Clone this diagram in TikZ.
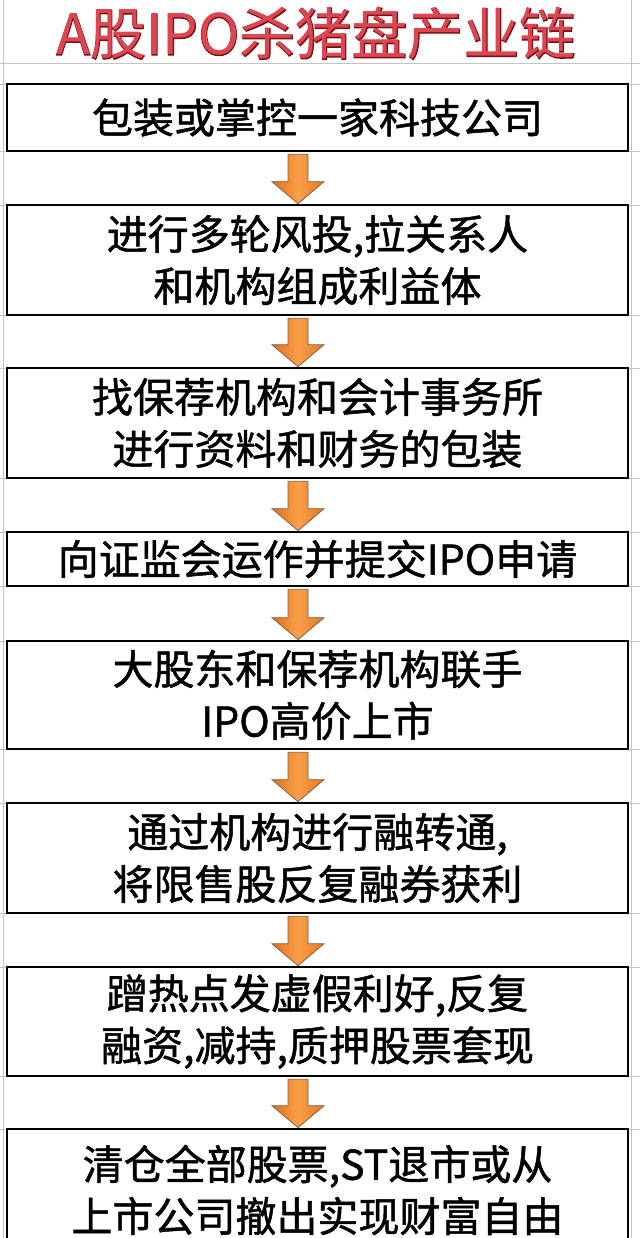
\documentclass[tikz,border=0pt]{standalone}
\usepackage{fontspec}
\newfontfamily\cjk[FakeBold=1.2]{Noto Sans CJK SC}
\newfontfamily\cjktitle{Noto Sans CJK SC}
\newfontfamily\cjktitleout[FakeBold=1.8]{Noto Sans CJK SC}
\usetikzlibrary{calc}
\definecolor{titlered}{HTML}{DC4650}
\definecolor{titledark}{HTML}{7A1016}
\definecolor{arrowA}{HTML}{E06E18}
\definecolor{arrowB}{HTML}{FCA04A}
\definecolor{arrowEdge}{HTML}{7C6450}
\definecolor{gridgray}{HTML}{C4C4C4}
\tikzset{
  stepbox/.style={draw=black, line width=2.6pt, minimum width=621pt, inner sep=0pt,
    align=center, font=\cjk\fontsize{41}{52}\selectfont},
  gridline/.style={draw=gridgray, line width=0.8pt},
  flowarrowstyle/.style={draw=arrowEdge, line width=0.8pt, left color=arrowA,
    right color=arrowA!85!arrowB, middle color=arrowB},
  titlefont/.style={inner sep=0pt, anchor=base, font=\fontsize{56}{60}\selectfont}
}
\newcommand\flowarrow[2]{%
  \draw[flowarrowstyle] ($(#1.south)+(-29.5,2)$) -- ($(#1.south)+(-9.5,2)$)
    -- ($(#2.north)+(-9.5,-22)$) -- ($(#2.north)+(6.5,-22)$)
    -- ($(#2.north)+(-19.5,0)$) -- ($(#2.north)+(-45.5,-22)$)
    -- ($(#2.north)+(-29.5,-22)$) -- cycle;}
\begin{document}
\begin{tikzpicture}[x=1pt,y=-1pt]
\useasboundingbox (0,0) rectangle (640,1238);
\fill[white] (0,0) rectangle (640,1238);
% spreadsheet grid
\draw[gridline] (3,0) -- (3,1238);
\draw[gridline] (631,0) -- (631,1238);
\foreach \yy in {63,84,151,205,315,368,478,532,586,641,749,803,913,967,1076,1129}
  \draw[gridline] (0,\yy) -- (640,\yy);
% title
\node[titlefont, text=titledark] (titleshadow) at (316,55) {\cjktitleout A股IPO杀猪盘产业链};
\node[titlefont, text=titlered] (title) at (316,55) {\cjktitle A股IPO杀猪盘产业链};
% boxes
\node[stepbox, minimum height=67pt]  (b1) at (317.5,117.5) {包装或掌控一家科技公司};
\node[stepbox, minimum height=110pt] (b2) at (317.5,260) {进行多轮风投,拉关系人\\和机构组成利益体};
\node[stepbox, minimum height=110pt] (b3) at (317.5,423) {找保荐机构和会计事务所\\进行资料和财务的包装};
\node[stepbox, minimum height=54pt]  (b4) at (317.5,559) {向证监会运作并提交IPO申请};
\node[stepbox, minimum height=108pt] (b5) at (317.5,695) {大股东和保荐机构联手\\IPO高价上市};
\node[stepbox, minimum height=110pt] (b6) at (317.5,858) {通过机构进行融转通,\\将限售股反复融券获利};
\node[stepbox, minimum height=109pt] (b7) at (317.5,1021.5) {蹭热点发虚假利好,反复\\融资,减持,质押股票套现};
\node[stepbox, minimum height=122pt] (b8) at (317.5,1190) {清仓全部股票,ST退市或从\\上市公司撤出实现财富自由};
% arrows
\flowarrow{b1}{b2}
\flowarrow{b2}{b3}
\flowarrow{b3}{b4}
\flowarrow{b4}{b5}
\flowarrow{b5}{b6}
\flowarrow{b6}{b7}
\flowarrow{b7}{b8}
\end{tikzpicture}
\end{document}
